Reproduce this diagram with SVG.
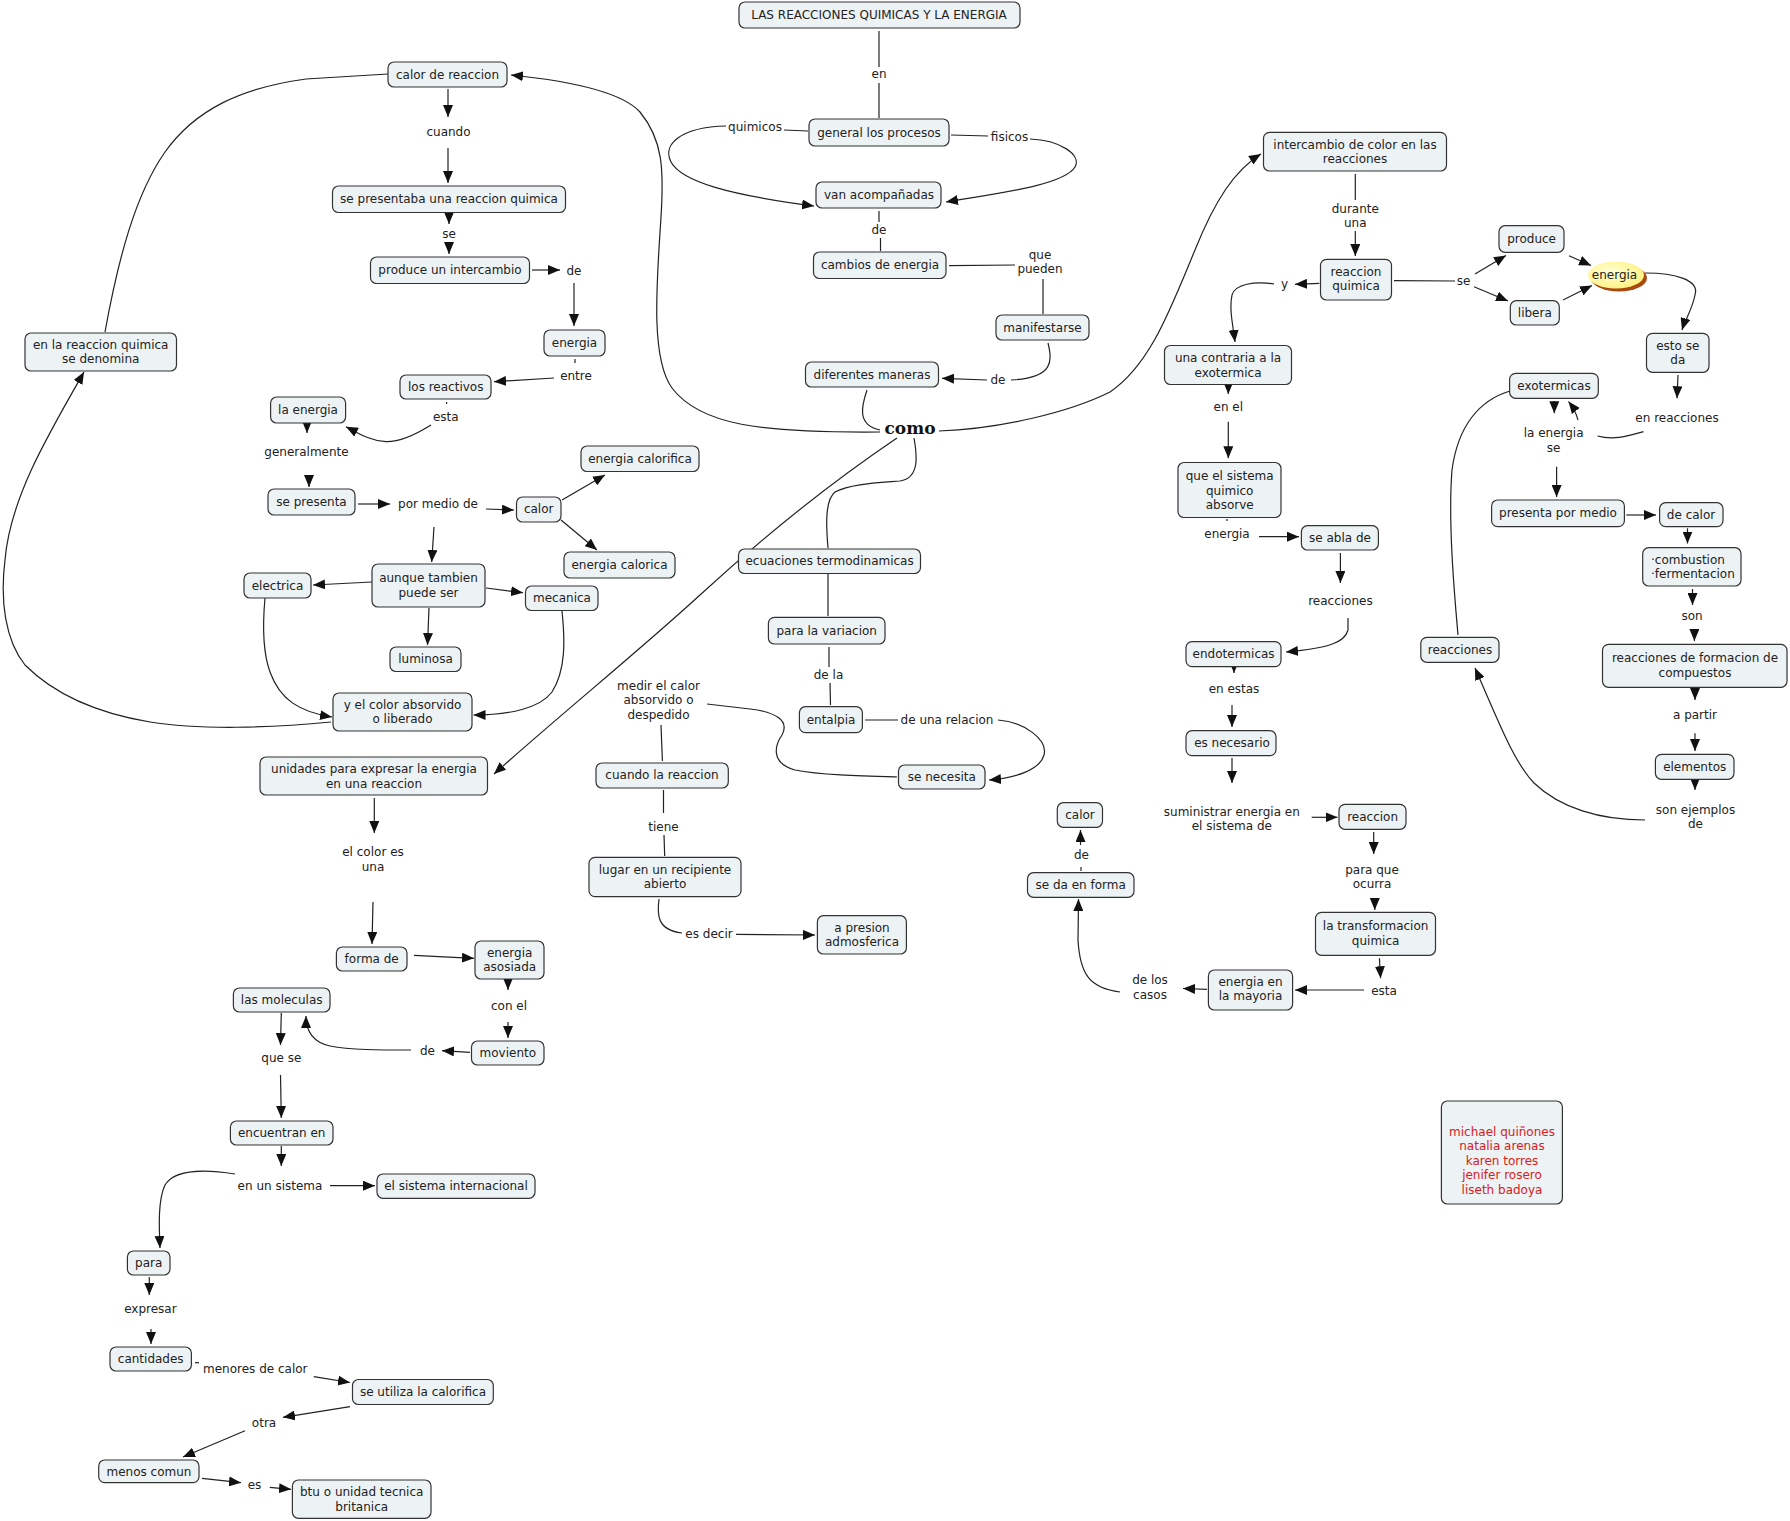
<svg xmlns="http://www.w3.org/2000/svg" width="1790" height="1521" viewBox="0 0 1790 1521">
<defs>
<marker id="ah" markerWidth="12" markerHeight="10" refX="12" refY="5" orient="auto" markerUnits="userSpaceOnUse"><path d="M0,0 L12,5 L0,10 z" fill="#111"/></marker>
<radialGradient id="yg" cx="0.4" cy="0.4" r="0.7"><stop offset="0" stop-color="#ffffd8"/><stop offset="1" stop-color="#fff07a"/></radialGradient>
</defs>
<style>
.n rect{fill:#edf3f5;stroke:#333;stroke-width:1.2}
text{font-family:"DejaVu Sans",Verdana,sans-serif;font-size:12px;fill:#222;text-anchor:middle}
.c path,.c line{stroke:#222;stroke-width:1.2;fill:none}
.a{marker-end:url(#ah)}
.red{fill:#d82020}
.como{font-family:"DejaVu Serif",serif;font-weight:bold;font-size:17px;fill:#111}
</style>
<rect width="1790" height="1521" fill="#fff"/>
<g id="connectors" class="c">
<line x1="879" y1="31" x2="879" y2="67"/>
<line x1="879" y1="83" x2="879" y2="118"/>
<line x1="808" y1="131" x2="784" y2="130"/>
<path class="a" d="M726,126 C680,127 662,145 671,162 C682,182 730,195 814,206"/>
<line x1="951" y1="135" x2="988" y2="136"/>
<path class="a" d="M1030,139 C1060,140 1082,155 1075,167 C1064,185 1000,193 946,202"/>
<line x1="879" y1="211" x2="879" y2="222"/>
<line x1="880.5" y1="238" x2="880.5" y2="251"/>
<line x1="949" y1="265.7" x2="1015" y2="265"/>
<line x1="1043" y1="279" x2="1043" y2="314"/>
<path d="M1048,343 C1052,360 1055,378 1011,380"/>
<line class="a" x1="987" y1="380" x2="942" y2="378.3"/>
<path d="M867,390 C862,405 856,425 880,430"/>
<path class="a" d="M880,432 C760,433 700,425 672,388 C650,358 657,280 661,217 C664,170 663,140 640,112 C620,90 560,80 511,75"/>
<path class="a" d="M939,431 C1000,429 1070,412 1110,392 C1150,365 1170,310 1195,250 C1215,200 1235,170 1261,154"/>
<path d="M914,438 C917,455 920,478 900,481 C875,483 850,484 835,492 C825,500 826,525 828,548"/>
<path class="a" d="M897,438 C820,490 760,540 700,595 C640,650 560,715 494,774"/>
<line x1="828" y1="574" x2="828" y2="616"/>
<line x1="829" y1="647" x2="829" y2="667"/>
<line x1="830" y1="683" x2="830.5" y2="705"/>
<line x1="865" y1="720" x2="898" y2="720"/>
<path class="a" d="M998,720 C1025,722 1048,740 1044,755 C1040,770 1015,778 989,780"/>
<path d="M897,777 C860,776 820,775 795,770 C770,763 775,745 782,735 C790,720 775,712 750,709 L707,704"/>
<line x1="661" y1="725" x2="662.4" y2="761"/>
<line x1="663.5" y1="790" x2="663.5" y2="813"/>
<line x1="664" y1="835" x2="664.7" y2="856"/>
<path d="M659,899 C657,915 657,930 682,933"/>
<line class="a" x1="736" y1="934.3" x2="815" y2="935"/>
<path class="a" d="M1120,992 C1090,988 1080,975 1078,940 L1078.5,899"/>
<line x1="1081" y1="867" x2="1081" y2="871"/>
<line class="a" x1="1080.5" y1="845" x2="1080.5" y2="830"/>
<line class="a" x1="1207" y1="989.3" x2="1183" y2="988.5"/>
<line class="a" x1="1364" y1="990" x2="1295" y2="990"/>
<line class="a" x1="1379.4" y1="958.3" x2="1380.6" y2="978.3"/>
<line class="a" x1="1374.8" y1="898" x2="1374.8" y2="910"/>
<line class="a" x1="1373.7" y1="832" x2="1373.7" y2="854"/>
<line class="a" x1="1311.7" y1="817.3" x2="1337.5" y2="817.3"/>
<line class="a" x1="1232" y1="758" x2="1232" y2="783"/>
<line class="a" x1="1232" y1="705" x2="1232" y2="727"/>
<line class="a" x1="1234" y1="667" x2="1234" y2="673"/>
<path class="a" d="M1348,618 L1348,630 C1345,642 1330,648 1286,652"/>
<line class="a" x1="1340.4" y1="553" x2="1340.4" y2="583"/>
<line class="a" x1="1259" y1="536.7" x2="1299" y2="536.7"/>
<line x1="1227" y1="519" x2="1227" y2="521"/>
<line class="a" x1="1228.3" y1="421.7" x2="1228.3" y2="458.3"/>
<line class="a" x1="1228.3" y1="385" x2="1228.3" y2="394"/>
<path class="a" d="M1274,284 C1255,281 1235,284 1232,295 C1229,310 1233,325 1235,342"/>
<line class="a" x1="1319.4" y1="283.3" x2="1295" y2="284.3"/>
<line x1="1355.3" y1="174" x2="1355.3" y2="200"/>
<line class="a" x1="1355.3" y1="231" x2="1355.3" y2="256"/>
<line x1="1394" y1="280.7" x2="1455" y2="281"/>
<line class="a" x1="1475" y1="274" x2="1506" y2="255.5"/>
<line class="a" x1="1474" y1="286.7" x2="1508" y2="301"/>
<line class="a" x1="1569" y1="255.7" x2="1591" y2="265.5"/>
<line class="a" x1="1563" y1="300" x2="1592" y2="285.5"/>
<path class="a" d="M1645,273 C1675,273 1700,280 1695,295 C1692,310 1685,320 1682,330"/>
<line class="a" x1="1678" y1="375" x2="1677" y2="398.3"/>
<path d="M1643.5,431.7 C1625,437 1612,440 1597.6,436"/>
<path class="a" d="M1578,420 C1576,412 1572,406 1568.5,401.5"/>
<line class="a" x1="1554.3" y1="401" x2="1554.3" y2="413.3"/>
<line class="a" x1="1556.6" y1="466.7" x2="1556.6" y2="497"/>
<line class="a" x1="1626.3" y1="515" x2="1656" y2="515"/>
<line class="a" x1="1687.5" y1="528.3" x2="1687.5" y2="543.5"/>
<line class="a" x1="1692.5" y1="589" x2="1692.5" y2="605"/>
<line class="a" x1="1694.4" y1="629" x2="1694.4" y2="641"/>
<line class="a" x1="1695" y1="689" x2="1695" y2="700"/>
<line class="a" x1="1695" y1="733.3" x2="1695" y2="751"/>
<line class="a" x1="1695" y1="781" x2="1695" y2="790"/>
<path class="a" d="M1645,820 C1600,820 1560,808 1534,783 C1514,762 1500,725 1475,668"/>
<path d="M1458,635 C1454,590 1448,520 1452,470 C1458,425 1480,400 1510,391"/>
<line class="a" x1="448" y1="89" x2="448" y2="117"/>
<line class="a" x1="448" y1="148" x2="448" y2="183"/>
<line class="a" x1="449" y1="213" x2="449" y2="224"/>
<line class="a" x1="449" y1="243" x2="449" y2="254"/>
<line class="a" x1="532" y1="270" x2="560" y2="270"/>
<line class="a" x1="574" y1="283" x2="574" y2="326"/>
<line x1="575" y1="359" x2="575" y2="363"/>
<line class="a" x1="554" y1="378" x2="494" y2="381.7"/>
<line x1="446.6" y1="402" x2="446.6" y2="404"/>
<path class="a" d="M431,425 C415,435 400,442 386,441.7 C370,441 358,433 346,426.7"/>
<line class="a" x1="307" y1="424" x2="307" y2="433"/>
<line class="a" x1="309" y1="477" x2="309" y2="487"/>
<line class="a" x1="358" y1="504" x2="390" y2="504"/>
<line class="a" x1="486" y1="509" x2="514" y2="510"/>
<line class="a" x1="562" y1="500" x2="605" y2="475"/>
<line class="a" x1="561" y1="520" x2="597" y2="550"/>
<line class="a" x1="434" y1="527" x2="431.7" y2="562"/>
<line class="a" x1="372" y1="582" x2="313" y2="585"/>
<line class="a" x1="486" y1="588" x2="523" y2="592.7"/>
<line class="a" x1="429" y1="608" x2="427.5" y2="645"/>
<path class="a" d="M265,598 C263,620 262,650 270,672 C280,700 300,712 332,717"/>
<path class="a" d="M562,611 C565,640 566,670 552,692 C540,708 510,715 473.5,715"/>
<path class="a" d="M331,722 C270,728 200,730 150,722 C90,712 50,690 25,665 C5,640 0,600 5,560 C10,500 45,440 84,372"/>
<path d="M105,332 C118,260 135,195 165,152 C195,110 240,88 306,79 L388,74"/>
<line class="a" x1="374.3" y1="798" x2="374.3" y2="833"/>
<line class="a" x1="373" y1="902" x2="372" y2="944"/>
<line class="a" x1="414" y1="955.3" x2="474" y2="958.3"/>
<line class="a" x1="508" y1="980" x2="508" y2="990"/>
<line class="a" x1="508" y1="1022" x2="508" y2="1038"/>
<line class="a" x1="470" y1="1052.3" x2="442" y2="1050.7"/>
<path class="a" d="M411,1050 C380,1050 350,1050 330,1046 C312,1042 306,1030 306,1016"/>
<line class="a" x1="281.3" y1="1013" x2="280.5" y2="1045"/>
<line class="a" x1="280.5" y1="1075" x2="281.3" y2="1118"/>
<line class="a" x1="281.3" y1="1146" x2="281.3" y2="1166"/>
<line class="a" x1="330" y1="1185.7" x2="375" y2="1185.7"/>
<path class="a" d="M235,1174 C210,1170 175,1168 165,1185 C158,1200 159,1225 160,1248"/>
<line class="a" x1="149.3" y1="1277" x2="149.3" y2="1295"/>
<line class="a" x1="151" y1="1329" x2="151" y2="1344"/>
<line x1="195" y1="1362.7" x2="199" y2="1362.7"/>
<line class="a" x1="313.8" y1="1376.7" x2="350" y2="1382.5"/>
<line class="a" x1="350" y1="1406.7" x2="283" y2="1417.3"/>
<line class="a" x1="245" y1="1430.7" x2="183" y2="1457"/>
<line class="a" x1="202" y1="1478.3" x2="241" y2="1482.7"/>
<line class="a" x1="269.8" y1="1487.3" x2="291" y2="1489.3"/>
</g>
<g id="n-title" class="n"><rect x="739" y="2" width="281" height="26" rx="6"/><text x="879" y="19">LAS REACCIONES QUIMICAS Y LA ENERGIA</text></g>
<g id="n-general" class="n"><rect x="809" y="119" width="140" height="27" rx="6"/><text x="879" y="136.5">general los procesos</text></g>
<g id="n-van" class="n"><rect x="816" y="182" width="125" height="26" rx="6"/><text x="879" y="199">van acompañadas</text></g>
<g id="n-cambios" class="n"><rect x="813.5" y="252" width="132.5" height="26.5" rx="6"/><text x="880" y="269">cambios de energia</text></g>
<g id="n-manifestarse" class="n"><rect x="996" y="315" width="93" height="25" rx="6"/><text x="1042.5" y="331.5">manifestarse</text></g>
<g id="n-diferentes" class="n"><rect x="805.5" y="362" width="133" height="25" rx="6"/><text x="872" y="379">diferentes maneras</text></g>
<g id="n-calorreaccion" class="n"><rect x="388" y="62" width="119" height="25" rx="6"/><text x="447.5" y="78.5">calor de reaccion</text></g>
<g id="n-sepresentaba" class="n"><rect x="332.5" y="186" width="233" height="26.5" rx="6"/><text x="449" y="203">se presentaba una reaccion quimica</text></g>
<g id="n-produceint" class="n"><rect x="370.5" y="257" width="159" height="26.5" rx="6"/><text x="450" y="274">produce un intercambio</text></g>
<g id="n-energia1" class="n"><rect x="544" y="330" width="61" height="26" rx="6"/><text x="574.5" y="347">energia</text></g>
<g id="n-reactivos" class="n"><rect x="400" y="375" width="91" height="24" rx="6"/><text x="445.7" y="391">los reactivos</text></g>
<g id="n-laenergia" class="n"><rect x="270.6" y="397" width="75" height="26" rx="6"/><text x="308" y="414">la energia</text></g>
<g id="n-sepresenta" class="n"><rect x="268" y="489" width="87" height="26" rx="6"/><text x="311.5" y="506">se presenta</text></g>
<g id="n-calor1" class="n"><rect x="516.5" y="497" width="44.5" height="25" rx="6"/><text x="538.7" y="513">calor</text></g>
<g id="n-calorifica" class="n"><rect x="581" y="446" width="118" height="25.5" rx="6"/><text x="640" y="463">energia calorifica</text></g>
<g id="n-calorica" class="n"><rect x="564" y="552" width="111" height="26" rx="6"/><text x="619.5" y="569">energia calorica</text></g>
<g id="n-aunque" class="n"><rect x="372" y="564" width="113" height="43" rx="6"/><text x="428.5" y="582">aunque tambien</text><text x="428.5" y="597">puede ser</text></g>
<g id="n-electrica" class="n"><rect x="244" y="573" width="67" height="25" rx="6"/><text x="277.5" y="589.5">electrica</text></g>
<g id="n-mecanica" class="n"><rect x="525.5" y="586" width="72.5" height="24.5" rx="6"/><text x="562" y="602">mecanica</text></g>
<g id="n-luminosa" class="n"><rect x="390" y="647" width="71" height="24.5" rx="6"/><text x="425.5" y="663">luminosa</text></g>
<g id="n-ycolor" class="n"><rect x="333" y="693" width="139" height="38" rx="6"/><text x="402.5" y="709">y el color absorvido</text><text x="402.5" y="723">o liberado</text></g>
<g id="n-enlareaccion" class="n"><rect x="25" y="333" width="151.5" height="38" rx="6"/><text x="100.7" y="349">en la reaccion quimica</text><text x="100.7" y="363">se denomina</text></g>
<g id="n-unidades" class="n"><rect x="260" y="757" width="227.5" height="38" rx="6"/><text x="374" y="773.3">unidades para expresar la energia</text><text x="374" y="787.7">en una reaccion</text></g>
<g id="n-formade" class="n"><rect x="336.4" y="947" width="70.6" height="24" rx="6"/><text x="371.7" y="963">forma de</text></g>
<g id="n-asosiada" class="n"><rect x="475" y="941" width="69" height="38" rx="6"/><text x="509.7" y="956.7">energia</text><text x="509.7" y="971">asosiada</text></g>
<g id="n-moleculas" class="n"><rect x="233.4" y="988" width="96.6" height="24" rx="6"/><text x="281.7" y="1004">las moleculas</text></g>
<g id="n-moviento" class="n"><rect x="471.5" y="1041" width="72.5" height="24" rx="6"/><text x="507.8" y="1057">moviento</text></g>
<g id="n-encuentran" class="n"><rect x="230.4" y="1121" width="102.6" height="24" rx="6"/><text x="281.7" y="1137">encuentran en</text></g>
<g id="n-internacional" class="n"><rect x="377" y="1174" width="158" height="24.3" rx="6"/><text x="456" y="1190">el sistema internacional</text></g>
<g id="n-para" class="n"><rect x="127.4" y="1251" width="42.6" height="24" rx="6"/><text x="148.7" y="1267">para</text></g>
<g id="n-cantidades" class="n"><rect x="110" y="1347" width="81.4" height="24" rx="6"/><text x="150.7" y="1363">cantidades</text></g>
<g id="n-seutiliza" class="n"><rect x="352.5" y="1379.5" width="140.8" height="25" rx="6"/><text x="423" y="1396">se utiliza la calorifica</text></g>
<g id="n-menoscomun" class="n"><rect x="98.7" y="1460" width="100.3" height="22.7" rx="6"/><text x="149" y="1475.5">menos comun</text></g>
<g id="n-btu" class="n"><rect x="292.4" y="1480" width="138.6" height="38.3" rx="6"/><text x="361.7" y="1496">btu o unidad tecnica</text><text x="361.7" y="1510.7">britanica</text></g>
<g id="n-ecuaciones" class="n"><rect x="738.5" y="549" width="182" height="24.5" rx="6"/><text x="829.6" y="565">ecuaciones termodinamicas</text></g>
<g id="n-variacion" class="n"><rect x="768.4" y="617.3" width="116.6" height="26.7" rx="6"/><text x="826.7" y="634.7">para la variacion</text></g>
<g id="n-entalpia" class="n"><rect x="799.4" y="706.7" width="63" height="26" rx="6"/><text x="831" y="723.7">entalpia</text></g>
<g id="n-senecesita" class="n"><rect x="898.5" y="765" width="86.5" height="24" rx="6"/><text x="941.8" y="781">se necesita</text></g>
<g id="n-cuandoreaccion" class="n"><rect x="596" y="763" width="132.3" height="25" rx="6"/><text x="662" y="779">cuando la reaccion</text></g>
<g id="n-lugar" class="n"><rect x="589" y="857.3" width="152" height="39.4" rx="6"/><text x="665" y="874">lugar en un recipiente</text><text x="665" y="888.3">abierto</text></g>
<g id="n-presion" class="n"><rect x="817.4" y="915.7" width="89" height="38.3" rx="6"/><text x="862" y="931.7">a presion</text><text x="862" y="946">admosferica</text></g>
<g id="n-calor2" class="n"><rect x="1057.3" y="802.7" width="45.2" height="24.6" rx="6"/><text x="1080" y="819">calor</text></g>
<g id="n-sedaforma" class="n"><rect x="1027.5" y="872.7" width="106.5" height="24.6" rx="6"/><text x="1080.7" y="889">se da en forma</text></g>
<g id="n-intercambio" class="n"><rect x="1263.5" y="132.3" width="183" height="38.7" rx="6"/><text x="1355" y="149">intercambio de color en las</text><text x="1355" y="163.3">reacciones</text></g>
<g id="n-reaccionquimica" class="n"><rect x="1320.5" y="259.3" width="71" height="40.7" rx="6"/><text x="1356" y="275.7">reaccion</text><text x="1356" y="290">quimica</text></g>
<g id="n-produce" class="n"><rect x="1499" y="225.7" width="65" height="26.6" rx="6"/><text x="1531.6" y="243">produce</text></g>
<g id="n-libera" class="n"><rect x="1510.3" y="300.7" width="49" height="24.3" rx="6"/><text x="1534.8" y="316.8">libera</text></g>
<g id="n-energia2"><ellipse cx="1619" cy="278" rx="28" ry="13.5" fill="#a84a12"/><ellipse cx="1616" cy="275" rx="28" ry="13.5" fill="url(#yg)"/><text x="1614.5" y="278.5">energia</text></g>
<g id="n-estoseda" class="n"><rect x="1646.5" y="333.3" width="62.5" height="39" rx="6"/><text x="1677.8" y="349.7">esto se</text><text x="1677.8" y="364">da</text></g>
<g id="n-exotermicas" class="n"><rect x="1509.6" y="373.3" width="88.7" height="25" rx="6"/><text x="1554" y="390">exotermicas</text></g>
<g id="n-contraria" class="n"><rect x="1164.5" y="345.5" width="127" height="39" rx="6"/><text x="1228" y="362.3">una contraria a la</text><text x="1228" y="376.7">exotermica</text></g>
<g id="n-queelsistema" class="n"><rect x="1178" y="462.5" width="103" height="55" rx="6"/><text x="1229.7" y="480">que el sistema</text><text x="1229.7" y="494.7">quimico</text><text x="1229.7" y="509">absorve</text></g>
<g id="n-seabla" class="n"><rect x="1301.4" y="525.7" width="77" height="24.3" rx="6"/><text x="1340" y="542">se abla de</text></g>
<g id="n-endotermicas" class="n"><rect x="1186" y="641.6" width="95" height="25" rx="6"/><text x="1233.6" y="658">endotermicas</text></g>
<g id="n-necesario" class="n"><rect x="1186" y="730.7" width="90" height="25" rx="6"/><text x="1232" y="747">es necesario</text></g>
<g id="n-reaccion3" class="n"><rect x="1339" y="804.3" width="67" height="25" rx="6"/><text x="1372.6" y="821">reaccion</text></g>
<g id="n-transformacion" class="n"><rect x="1315.5" y="912.3" width="120" height="43" rx="6"/><text x="1375.6" y="930">la transformacion</text><text x="1375.6" y="944.7">quimica</text></g>
<g id="n-mayoria" class="n"><rect x="1208.4" y="970" width="84.2" height="40" rx="6"/><text x="1250.5" y="985.7">energia en</text><text x="1250.5" y="1000">la mayoria</text></g>
<g id="n-presentapor" class="n"><rect x="1491.6" y="500" width="132.8" height="26.7" rx="6"/><text x="1558" y="517">presenta por medio</text></g>
<g id="n-decalor" class="n"><rect x="1659.6" y="502.7" width="63.4" height="24" rx="6"/><text x="1691" y="518.7">de calor</text></g>
<g id="n-combustion" class="n"><rect x="1642.7" y="547.7" width="98.3" height="38.3" rx="6"/><text x="1651" y="564" style="text-anchor:start">·combustion</text><text x="1651" y="578.3" style="text-anchor:start">·fermentacion</text></g>
<g id="n-formacion" class="n"><rect x="1602.5" y="644.3" width="184.5" height="43" rx="6"/><text x="1695" y="662.3">reacciones de formacion de</text><text x="1695" y="676.7">compuestos</text></g>
<g id="n-elementos" class="n"><rect x="1655.4" y="754.3" width="78.6" height="25" rx="6"/><text x="1694.7" y="771">elementos</text></g>
<g id="n-reacciones2" class="n"><rect x="1420.8" y="637.3" width="78.2" height="25" rx="6"/><text x="1460" y="654">reacciones</text></g>
<g id="n-nombres" class="n"><rect x="1441.4" y="1101" width="121" height="103" rx="6"/><text class="red" x="1502" y="1135.7">michael quiñones</text><text class="red" x="1502" y="1150">natalia arenas</text><text class="red" x="1502" y="1164.7">karen torres</text><text class="red" x="1502" y="1179.3">jenifer rosero</text><text class="red" x="1502" y="1193.7">liseth badoya</text></g>
<g id="labels">
<text x="879" y="78">en</text>
<text x="755" y="130.7">quimicos</text>
<text x="1009.5" y="140.7">fisicos</text>
<text x="879" y="234">de</text>
<text x="1040" y="259">que</text><text x="1040" y="273.3">pueden</text>
<text x="998" y="384">de</text>
<text class="como" x="910" y="434">como</text>
<text x="448.5" y="136">cuando</text>
<text x="449" y="237.5">se</text>
<text x="574" y="275">de</text>
<text x="576" y="380">entre</text>
<text x="445.8" y="420.7">esta</text>
<text x="306.5" y="456">generalmente</text>
<text x="438" y="508">por medio de</text>
<text x="373" y="856.3">el color es</text><text x="373" y="870.7">una</text>
<text x="509" y="1010">con el</text>
<text x="427.5" y="1054.7">de</text>
<text x="281.3" y="1061.7">que se</text>
<text x="280" y="1189.7">en un sistema</text>
<text x="150.4" y="1313">expresar</text>
<text x="255.3" y="1373">menores de calor</text>
<text x="264" y="1427.3">otra</text>
<text x="254.5" y="1489">es</text>
<text x="828.5" y="679">de la</text>
<text x="947" y="724">de una relacion</text>
<text x="658.5" y="690">medir el calor</text><text x="658.5" y="704.3">absorvido o</text><text x="658.5" y="719">despedido</text>
<text x="663.5" y="830.7">tiene</text>
<text x="709" y="938">es decir</text>
<text x="1081.4" y="859">de</text>
<text x="1150" y="984">de los</text><text x="1150" y="999">casos</text>
<text x="1355.3" y="213">durante</text><text x="1355.3" y="227.3">una</text>
<text x="1284.5" y="288.3">y</text>
<text x="1463.6" y="285">se</text>
<text x="1228.3" y="411">en el</text>
<text x="1227" y="538.3">energia</text>
<text x="1340.4" y="604.7">reacciones</text>
<text x="1234" y="693.3">en estas</text>
<text x="1231.8" y="815.7">suministrar energia en</text><text x="1231.8" y="830">el sistema de</text>
<text x="1372" y="874">para que</text><text x="1372" y="888.3">ocurra</text>
<text x="1384" y="994.7">esta</text>
<text x="1553.6" y="436.7">la energia</text><text x="1553.6" y="451.7">se</text>
<text x="1677" y="421.7">en reacciones</text>
<text x="1692" y="619.7">son</text>
<text x="1695" y="719">a partir</text>
<text x="1695.5" y="814">son ejemplos</text><text x="1695.5" y="828.3">de</text>
</g>
</svg>
